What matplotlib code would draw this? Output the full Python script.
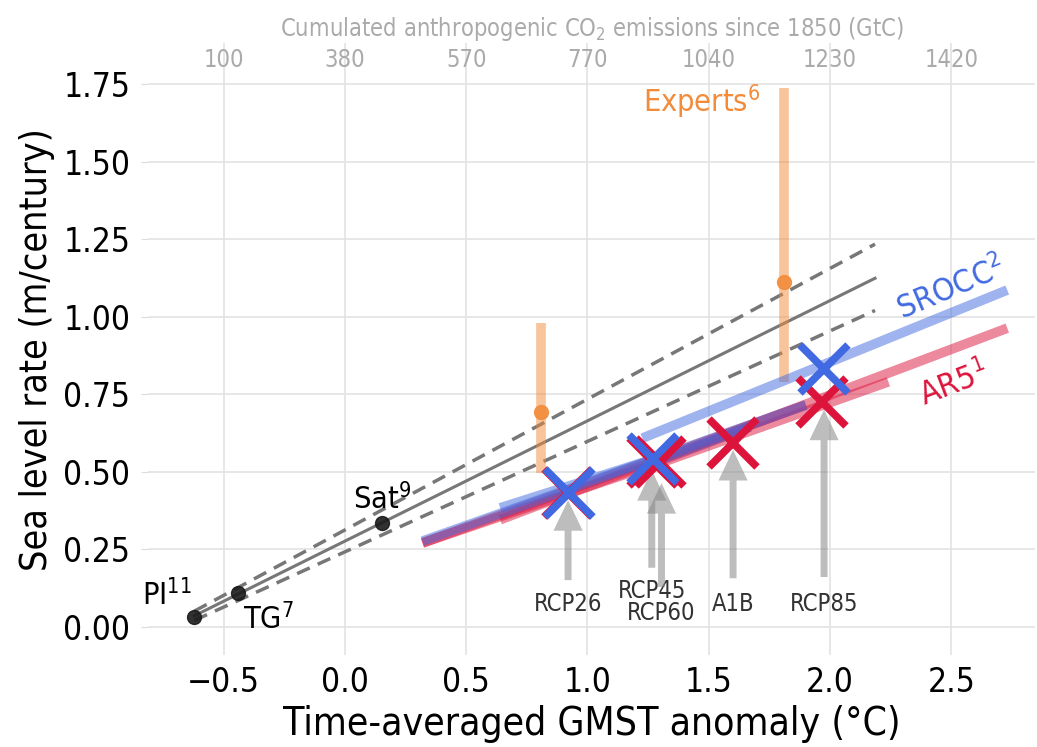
import numpy as np
import matplotlib.pyplot as plt

plt.rcParams['font.family'] = ['DejaVu Sans']
plt.rcParams['font.stretch'] = 'condensed'

# observations
obs_names = ['PI$^{11}$', 'TG$^{7}$', 'Sat$^{9}$']
obs_t = [-0.62, -0.44, 0.155]
obs_r = [0.03, 0.11, 0.335]

# linear fit through observations (central, upper, lower)
fit_t = [-0.62, 2.185]
fit_mid = [0.035, 1.124]
fit_hi = [0.05, 1.234]
fit_lo = [0.02, 1.02]

# expert elicitation
exp_t = [0.81, 1.81]
exp_mid = [0.692, 1.111]
exp_lo = [0.495, 0.79]
exp_hi = [0.979, 1.737]

# AR5 and SROCC scenario segments (start/end temperature and rate)
ar5_t = [[0.32, 1.30], [0.64, 2.73], [1.20, 2.24], [1.25, 1.67], [0.32, 1.90]]
ar5_r = [[0.27, 0.53], [0.345, 0.963], [0.50, 0.79], [0.52, 0.645], [0.27, 0.715]]
srocc_t = [[0.32, 1.90], [0.64, 1.27], [1.226, 2.73], [1.25, 1.67]]
srocc_r = [[0.276, 0.715], [0.383, 0.54], [0.608, 1.086], [0.525, 0.645]]

# scenario points
ar5_pt_t = [0.92, 1.27, 1.30, 1.60, 1.967]
ar5_pt_r = [0.43, 0.531, 0.53, 0.592, 0.724]
srocc_pt_t = [0.922, 1.27, 1.975]
srocc_pt_r = [0.43, 0.54, 0.83]

# scenario arrows
scen_names = ['RCP26', 'RCP45', 'RCP60', 'A1B', 'RCP85']
scen_t = [0.92, 1.265, 1.305, 1.60, 1.975]
scen_tail = [0.15, 0.19, 0.128, 0.156, 0.16]
scen_tip = [0.408, 0.505, 0.463, 0.57, 0.70]
scen_text_y = [0.073, 0.115, 0.044, 0.073, 0.073]

# top axis
top_ticks = [-0.5, 0.0, 0.5, 1.0, 1.5, 2.0, 2.5]
top_labels = ['100', '380', '570', '770', '1040', '1230', '1420']

red = 'crimson'
blue = 'royalblue'
orange = '#f28b3a'

fig = plt.figure(figsize=(10.37, 7.47), dpi=100)
ax = fig.add_axes([0.143, 0.123, 0.855, 0.819])

for s in ax.spines.values():
    s.set_visible(False)
ax.grid(True, color='#e3e3e3', lw=1.2)
ax.set_axisbelow(True)

# observation fit
ax.plot(fit_t, fit_mid, color='#777777', lw=2.2)
ax.plot(fit_t, fit_hi, color='#777777', lw=2.5, ls=(0, (4, 2.5)))
ax.plot(fit_t, fit_lo, color='#777777', lw=2.5, ls=(0, (4, 2.5)))
ax.plot(obs_t, obs_r, 'o', color='#1a1a1a', ms=10, alpha=0.9, zorder=5)
ax.text(-0.63, 0.05, obs_names[0], fontsize=22, ha='right', va='bottom')
ax.text(-0.42, 0.075, obs_names[1], fontsize=22, ha='left', va='top')
ax.text(0.155, 0.36, obs_names[2], fontsize=22, ha='center', va='bottom')

# experts
for t, m, lo, hi in zip(exp_t, exp_mid, exp_lo, exp_hi):
    ax.plot([t, t], [lo, hi], color=orange, lw=7, alpha=0.5, solid_capstyle='butt')
    ax.plot(t, m, 'o', color=orange, ms=10, alpha=0.9)
ax.text(1.715, 1.63, 'Experts$^{6}$', color=orange, fontsize=22, ha='right', va='bottom')

# scenario lines
for t, r in zip(ar5_t, ar5_r):
    ax.plot(t, r, color=red, lw=7, alpha=0.5, solid_capstyle='butt')
for t, r in zip(srocc_t, srocc_r):
    ax.plot(t, r, color=blue, lw=7, alpha=0.5, solid_capstyle='butt')

ax.plot(ar5_pt_t, ar5_pt_r, 'x', color=red, ms=34, mew=5.5, zorder=6)
ax.plot(srocc_pt_t, srocc_pt_r, 'x', color=blue, ms=34, mew=5.5, zorder=7)

ax.text(2.50, 1.09, 'SROCC$^{2}$', color=blue, fontsize=23, rotation=23,
        ha='center', va='center', rotation_mode='anchor')
ax.text(2.51, 0.78, 'AR5$^{1}$', color=red, fontsize=23, rotation=21,
        ha='center', va='center', rotation_mode='anchor')

# scenario arrows
for name, t, tail, tip, ty in zip(scen_names, scen_t, scen_tail, scen_tip, scen_text_y):
    ax.annotate('', xy=(t, tip), xytext=(t, tail),
                arrowprops=dict(facecolor='#888888', edgecolor='none', alpha=0.55,
                                width=5, headwidth=21, headlength=22))
    ax.text(t, ty, name, fontsize=17, color='#333333', ha='center', va='center')

ax.set_xlim(-0.81, 2.844)
ax.set_ylim(-0.092, 1.882)
ax.set_xticks([-0.5, 0.0, 0.5, 1.0, 1.5, 2.0, 2.5])
ax.set_yticks([0, 0.25, 0.5, 0.75, 1.0, 1.25, 1.5, 1.75])
ax.set_yticklabels(['0.00', '0.25', '0.50', '0.75', '1.00', '1.25', '1.50', '1.75'])
ax.tick_params(axis='y', labelsize=24, length=5, color='#dddddd', pad=8)
ax.tick_params(axis='x', labelsize=24, length=0, pad=8)
ax.set_xlabel('Time-averaged GMST anomaly (°C)', fontsize=28, labelpad=4)
ax.set_ylabel('Sea level rate (m/century)', fontsize=27, labelpad=6)

ax2 = ax.twiny()
for s in ax2.spines.values():
    s.set_visible(False)
ax2.set_xlim(ax.get_xlim())
ax2.set_xticks(top_ticks)
ax2.set_xticklabels(top_labels)
ax2.tick_params(axis='x', length=0, pad=-21, labelsize=17, labelcolor='#aaaaaa')
ax2.set_xlabel('Cumulated anthropogenic CO$_2$ emissions since 1850 (GtC)',
               fontsize=17, color='#aaaaaa', labelpad=5)

fig.savefig('out.png', dpi=100)
